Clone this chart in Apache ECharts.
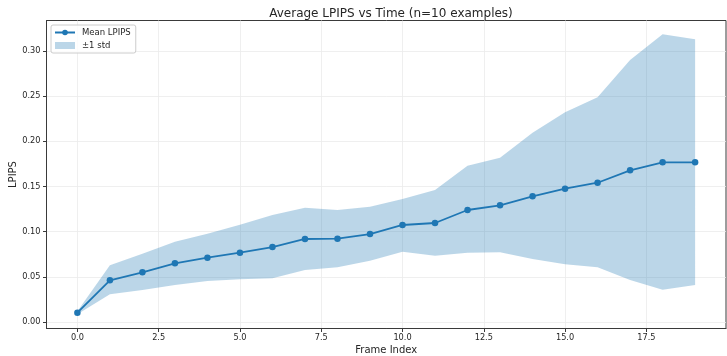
<!DOCTYPE html>
<html>
<head>
<meta charset="utf-8">
<script src="https://cdn.jsdelivr.net/npm/echarts@6/dist/echarts.min.js"></script>
<style>
  html, body { margin: 0; padding: 0; background: #fff; }
  #chart { width: 727px; height: 356px; }
</style>
</head>
<body>
<div id="chart"></div>
<script>
// Frame indices
const frames = [0, 1, 2, 3, 4, 5, 6, 7, 8, 9, 10, 11, 12, 13, 14, 15, 16, 17, 18, 19];
// Mean LPIPS per frame
const meanLpips = [0.0103, 0.0462, 0.0550, 0.0650, 0.0712, 0.0767, 0.0830, 0.0919, 0.0922, 0.0974,
                   0.1074, 0.1096, 0.1240, 0.1292, 0.1391, 0.1476, 0.1542, 0.1679, 0.1768, 0.1768];
// Mean + 1 std
const upperBand = [0.0120, 0.0628, 0.0755, 0.0889, 0.0978, 0.1078, 0.1185, 0.1266, 0.1240, 0.1277,
                   0.1362, 0.1461, 0.1730, 0.1819, 0.2096, 0.2321, 0.2487, 0.2900, 0.3185, 0.3130];
// Mean - 1 std
const lowerBand = [0.0085, 0.0307, 0.0354, 0.0410, 0.0454, 0.0473, 0.0484, 0.0576, 0.0605, 0.0679,
                   0.0778, 0.0734, 0.0767, 0.0772, 0.0697, 0.0639, 0.0605, 0.0465, 0.0358, 0.0410];
// Tick positions
const xTicks = [0, 2.5, 5, 7.5, 10, 12.5, 15, 17.5];
const yTicks = [0, 0.05, 0.10, 0.15, 0.20, 0.25, 0.30];

const BLUE = '#1f77b4';
const FILL = 'rgba(31,119,180,0.3)';
const FONT = 'DejaVu Sans';
const TEXT = '#262626';
const SPINE = '#3a3a3a';
const GRID = '#ebebeb';

const chart = echarts.init(document.getElementById('chart'), null, { renderer: 'canvas' });

const meanData = frames.map((f, i) => [f, meanLpips[i]]);

// The ±1 std band: one polygon running along the upper edge and back along the lower edge
function renderBand(params, api) {
  if (params.dataIndex !== 0) return null;
  const pts = [];
  for (let i = 0; i < frames.length; i++) pts.push(api.coord([frames[i], upperBand[i]]));
  for (let i = frames.length - 1; i >= 0; i--) pts.push(api.coord([frames[i], lowerBand[i]]));
  return {
    type: 'polygon',
    shape: { points: pts },
    style: { fill: FILL, stroke: 'none' },
    silent: true
  };
}

chart.setOption({
  animation: false,
  backgroundColor: '#fff',
  title: {
    text: 'Average LPIPS vs Time (n=10 examples)',
    left: 386, textAlign: 'center', top: 3,
    textStyle: { fontFamily: FONT, fontSize: 12, fontWeight: 'normal', color: TEXT }
  },
  legend: {
    orient: 'vertical',
    left: 51, top: 25,
    padding: [3, 5, 3, 3],
    itemGap: 4,
    itemWidth: 20, itemHeight: 7,
    backgroundColor: 'rgba(255,255,255,0.8)',
    borderColor: '#cccccc', borderWidth: 1, borderRadius: 2,
    textStyle: { fontFamily: FONT, fontSize: 8.5, color: TEXT, padding: [0, 0, 0, 2] },
    data: [
      { name: 'Mean LPIPS' },
      { name: '±1 std', icon: 'rect', itemStyle: { color: FILL } }
    ]
  },
  grid: { left: 46.5, right: 1, top: 20.5, bottom: 27.5, containLabel: false,
          outerBoundsMode: 'none',
          show: true, borderColor: SPINE, borderWidth: 1 },
  xAxis: {
    type: 'value',
    min: -0.95, max: 19.95,
    name: 'Frame Index', nameLocation: 'middle', nameGap: 17, nameMoveOverlap: false,
    nameTextStyle: { fontFamily: FONT, fontSize: 10, color: TEXT },
    axisLine: { show: true, onZero: false, lineStyle: { color: SPINE, width: 1 } },
    axisTick: { show: true, length: 3.5, inside: false, customValues: xTicks, lineStyle: { color: SPINE } },
    axisLabel: { customValues: xTicks, margin: 5, fontFamily: FONT, fontSize: 8.2, color: TEXT,
                 formatter: v => v.toFixed(1) },
    splitLine: { show: true, customValues: xTicks, lineStyle: { color: GRID, width: 0.8 } }
  },
  yAxis: {
    type: 'value',
    min: -0.0072, max: 0.3338,
    name: 'LPIPS', nameLocation: 'middle', nameGap: 28, nameMoveOverlap: false,
    nameTextStyle: { fontFamily: FONT, fontSize: 10, color: TEXT },
    axisLine: { show: true, onZero: false, lineStyle: { color: SPINE, width: 1 } },
    axisTick: { show: true, length: 3.5, customValues: yTicks, lineStyle: { color: SPINE } },
    axisLabel: { customValues: yTicks, margin: 6, fontFamily: FONT, fontSize: 8.2, color: TEXT,
                 formatter: v => v.toFixed(2) },
    splitLine: { show: true, customValues: yTicks, lineStyle: { color: GRID, width: 0.8 } }
  },
  series: [
    {
      name: '±1 std',
      type: 'custom',
      renderItem: renderBand,
      data: [[frames[0], upperBand[0]]],
      itemStyle: { color: FILL },
      silent: true,
      z: 1
    },
    {
      name: 'Mean LPIPS',
      type: 'line',
      data: meanData,
      symbol: 'circle',
      symbolSize: 6.5,
      itemStyle: { color: BLUE },
      lineStyle: { color: BLUE, width: 1.8 },
      z: 3
    }
  ]
});
</script>
</body>
</html>
